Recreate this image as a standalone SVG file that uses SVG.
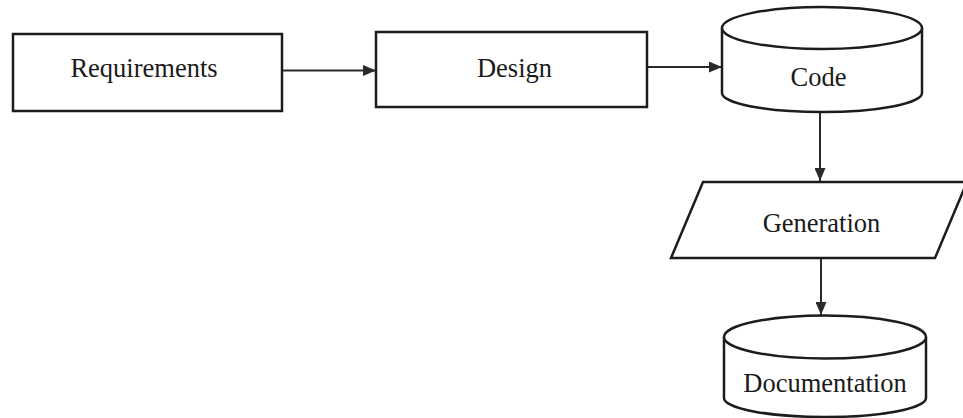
<svg xmlns="http://www.w3.org/2000/svg" width="963" height="418" viewBox="0 0 963 418">
  <style>
    .shape { fill: #ffffff; stroke: #1c1c1c; stroke-width: 2.5; stroke-linejoin: miter; }
    .edge { fill: none; stroke: #2a2a2a; stroke-width: 2; }
    .label { font-family: "Liberation Serif", "Times New Roman", serif; font-size: 26.5px; fill: #1a1a1a; text-anchor: middle; }
  </style>
  <defs>
    <marker id="arrow" markerUnits="userSpaceOnUse" markerWidth="13" markerHeight="11" refX="13" refY="5.5" orient="auto">
      <path d="M0,0 L13,5.5 L0,11 z" fill="#2a2a2a"/>
    </marker>
  </defs>

  <rect x="0" y="0" width="963" height="418" fill="#ffffff"/>

  <!-- connectors -->
  <g id="connectors">
    <path class="edge" d="M282,70.5 L376,70.5" marker-end="url(#arrow)"/>
    <path class="edge" d="M647,67 L722,67" marker-end="url(#arrow)"/>
    <path class="edge" d="M820,112 L820,181" marker-end="url(#arrow)"/>
    <path class="edge" d="M821,258 L821,315" marker-end="url(#arrow)"/>
  </g>

  <!-- process boxes -->
  <g id="requirements">
    <rect class="shape" x="13" y="34" width="269" height="77"/>
    <text class="label" x="144" y="77">Requirements</text>
  </g>

  <g id="design">
    <rect class="shape" x="376" y="32" width="271" height="75"/>
    <text class="label" x="514.5" y="77">Design</text>
  </g>

  <!-- stored data: cylinder -->
  <g id="code">
    <path class="shape" d="M722,28 L722,93 A100,19 0 0 0 922,93 L922,28"/>
    <ellipse class="shape" cx="822" cy="28" rx="100" ry="21"/>
    <text class="label" x="818.5" y="86">Code</text>
  </g>

  <!-- input/output: parallelogram -->
  <g id="generation">
    <polygon class="shape" points="703,182 967,182 935,258 671,258"/>
    <text class="label" x="821.5" y="231.5">Generation</text>
  </g>

  <g id="documentation">
    <path class="shape" d="M724,337 L724,398 A101,19 0 0 0 926,398 L926,337"/>
    <ellipse class="shape" cx="825" cy="337" rx="101" ry="21.5"/>
    <text class="label" x="825" y="392">Documentation</text>
  </g>
</svg>
